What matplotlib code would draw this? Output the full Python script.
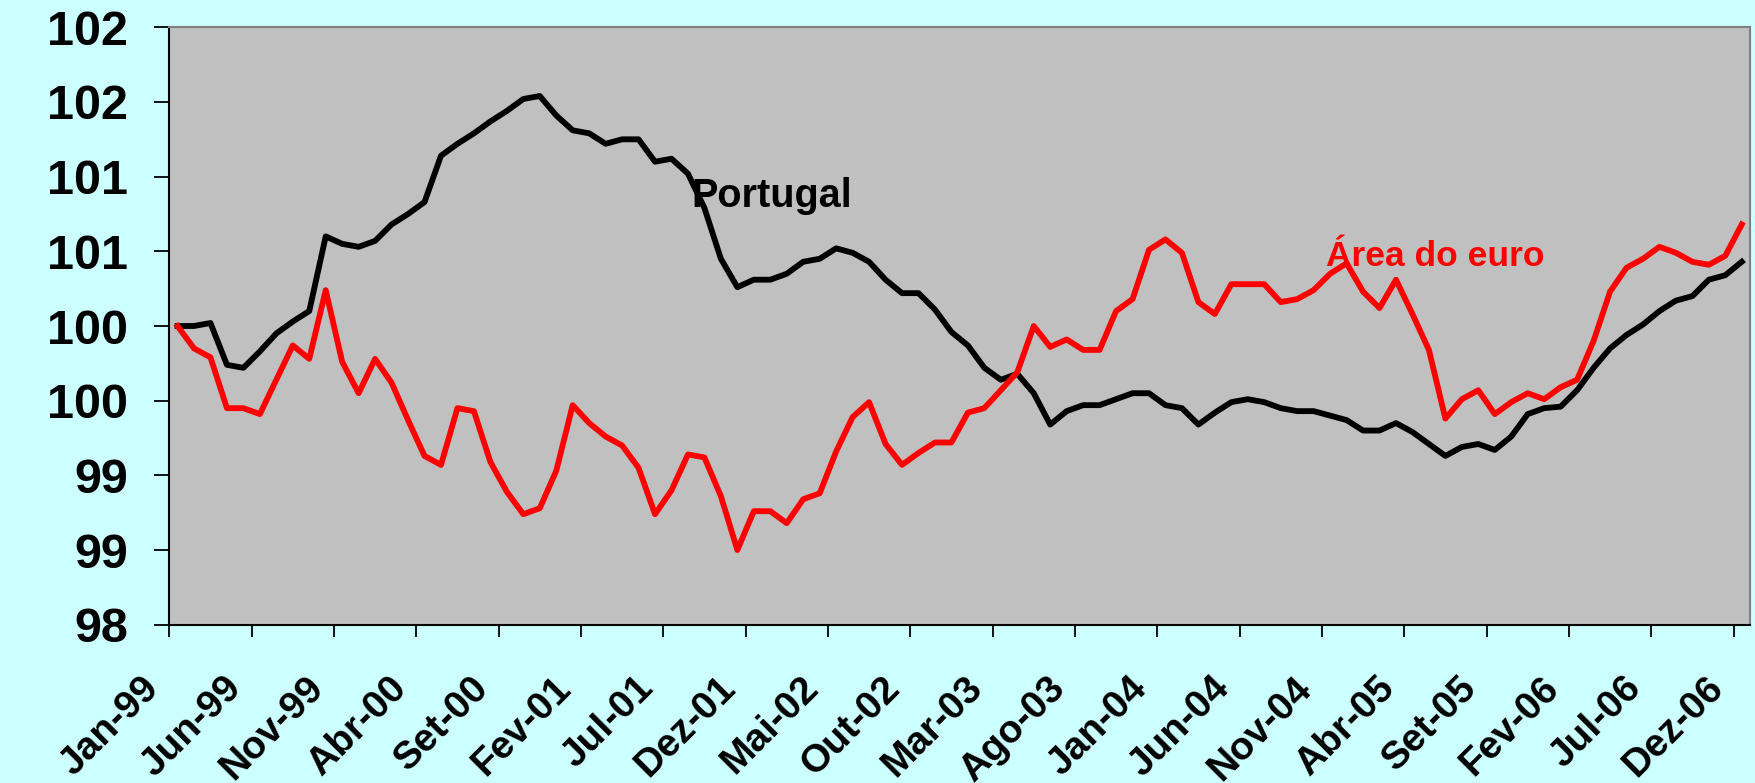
import numpy as np
import matplotlib
matplotlib.use("Agg")
import matplotlib.pyplot as plt
import matplotlib.transforms as mtransforms

# ---- data (Jan-99 .. Dez-06, monthly, Jan. 1999 = 100) ----
meses = ["Jan", "Fev", "Mar", "Abr", "Mai", "Jun", "Jul", "Ago", "Set", "Out", "Nov", "Dez"]
anos = ["99", "00", "01", "02", "03", "04", "05", "06"]
categorias = [f"{m}-{a}" for a in anos for m in meses]

portugal = [
    100.00, 100.00, 100.02, 99.74, 99.72, 99.83, 99.95, 100.03, 100.10, 100.60,
    100.55, 100.53, 100.57, 100.68, 100.75, 100.83, 101.14, 101.22, 101.29, 101.37,
    101.44, 101.52, 101.54, 101.41, 101.31, 101.29, 101.22, 101.25, 101.25, 101.10,
    101.12, 101.02, 100.79, 100.45, 100.26, 100.31, 100.31, 100.35, 100.43, 100.45,
    100.52, 100.49, 100.43, 100.31, 100.22, 100.22, 100.11, 99.96, 99.87, 99.72,
    99.64, 99.68, 99.55, 99.34, 99.43, 99.47, 99.47, 99.51, 99.55, 99.55,
    99.47, 99.45, 99.34, 99.42, 99.49, 99.51, 99.49, 99.45, 99.43, 99.43,
    99.40, 99.37, 99.30, 99.30, 99.35, 99.29, 99.21, 99.13, 99.19, 99.21,
    99.17, 99.26, 99.41, 99.45, 99.46, 99.57, 99.72, 99.85, 99.94, 100.01,
    100.10, 100.17, 100.20, 100.31, 100.34, 100.43,
]

area_euro = [
    100.00, 99.85, 99.79, 99.45, 99.45, 99.41, 99.64, 99.87, 99.78, 100.24,
    99.76, 99.55, 99.78, 99.62, 99.37, 99.13, 99.07, 99.45, 99.43, 99.09,
    98.89, 98.74, 98.78, 99.03, 99.47, 99.35, 99.26, 99.20, 99.05, 98.74,
    98.90, 99.14, 99.12, 98.86, 98.50, 98.76, 98.76, 98.68, 98.84, 98.88,
    99.16, 99.39, 99.49, 99.21, 99.07, 99.15, 99.22, 99.22, 99.42, 99.45,
    99.57, 99.69, 100.00, 99.86, 99.91, 99.84, 99.84, 100.10, 100.18, 100.51,
    100.58, 100.49, 100.16, 100.08, 100.28, 100.28, 100.28, 100.16, 100.18, 100.24,
    100.35, 100.42, 100.23, 100.12, 100.31, 100.08, 99.84, 99.38, 99.51, 99.57,
    99.41, 99.49, 99.55, 99.51, 99.59, 99.64, 99.90, 100.23, 100.39, 100.45,
    100.53, 100.49, 100.43, 100.41, 100.47, 100.68,
]

ytick_values = [98, 98.5, 99, 99.5, 100, 100.5, 101, 101.5, 102]
ytick_labels = ["98", "99", "99", "100", "100", "101", "101", "102", "102"]
xtick_labels = ["Jan-99", "Jun-99", "Nov-99", "Abr-00", "Set-00", "Fev-01", "Jul-01",
                "Dez-01", "Mai-02", "Out-02", "Mar-03", "Ago-03", "Jan-04", "Jun-04",
                "Nov-04", "Abr-05", "Set-05", "Fev-06", "Jul-06", "Dez-06"]

# ---- figure ----
plt.rcParams["font.family"] = ["Liberation Sans", "DejaVu Sans"]
W, H = 1755, 783
fig = plt.figure(figsize=(W / 100, H / 100), dpi=100, facecolor="#CCFFFF")
left, right, top, bottom = 169.3, 1750, 27.3, 624.7
ax = fig.add_axes([left / W, 1 - bottom / H, (right - left) / W, (bottom - top) / H])
ax.set_facecolor("#C0C0C0")

n = len(categorias)
x = np.arange(n) + 0.5
ax.plot(x, portugal, color="black", lw=4.2, solid_joinstyle="round", zorder=3)
ax.plot(x, area_euro, color="#FF0000", lw=4.2, solid_joinstyle="round", zorder=3)

ax.set_xlim(0, n)
ax.set_ylim(98, 102)

ax.set_yticks(ytick_values)
ax.set_yticklabels(ytick_labels, fontsize=35, fontweight="bold")
ax.tick_params(axis="y", direction="out", length=11, width=1.3, pad=18.5, colors="black")

xt = np.arange(0, n, 5)
ax.set_xticks(xt)
ax.set_xticklabels(xtick_labels, fontsize=28, fontweight="bold", rotation=45,
                   ha="right", va="center", rotation_mode="anchor")
ax.tick_params(axis="x", direction="out", length=8.6, width=1.3, pad=33.2)
shift = mtransforms.ScaledTranslation(-15.5 / 100, 0, fig.dpi_scale_trans)
for lbl in ax.get_xticklabels():
    lbl.set_transform(lbl.get_transform() + shift)

for s in ["left", "bottom"]:
    ax.spines[s].set_color("black")
    ax.spines[s].set_linewidth(1.5)
for s in ["top", "right"]:
    ax.spines[s].set_color("#808080")
    ax.spines[s].set_linewidth(1.5)

ax.set_ylabel("Jan. 1999=100", fontsize=24, fontweight="bold")
ax.yaxis.label.set_transform(fig.transFigure)
ax.yaxis.label.set_position((27.5 / W, 1 - 326 / H))
ax.yaxis.label.set_verticalalignment("center")

ax.text(31.7, 100.80, "Portugal", fontsize=28.5, fontweight="bold", color="black",
        ha="left", va="baseline", zorder=4)
ax.text(70.25, 100.40, "Área do euro", fontsize=25.5, fontweight="bold", color="#FF0000",
        ha="left", va="baseline", zorder=4)

fig.savefig("out.png", dpi=100, facecolor=fig.get_facecolor())
